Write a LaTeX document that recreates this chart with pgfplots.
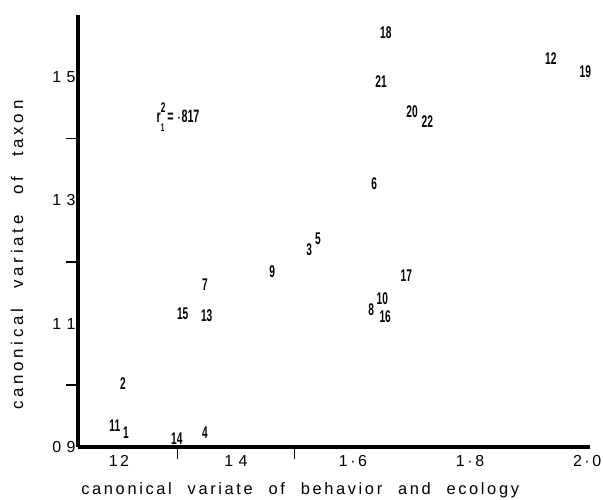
\documentclass[border=0pt]{standalone}
\usepackage{fontspec}
\usepackage{pgfplots}
\usepackage{pgfplotstable}
\pgfplotsset{compat=1.18}
\setmainfont{Liberation Sans}
\newfontfamily\numfont[FakeStretch=0.6]{Liberation Sans}
\newfontfamily\labfont[LetterSpace=16,WordSpace=2.2]{Liberation Sans}
\newfontfamily\ylabfont[LetterSpace=22,WordSpace=2.4]{Liberation Sans}

% taxa: canonical variate of behaviour/ecology (x) against taxon (y)
\pgfplotstableread{
x     y     lab
1.212 0.923 1
1.207 1.002 2
1.525 1.219 3
1.347 0.923 4
1.540 1.237 5
1.636 1.326 6
1.347 1.163 7
1.631 1.122 8
1.462 1.184 9
1.650 1.141 10
1.193 0.934 11
1.938 1.529 12
1.350 1.112 13
1.299 0.913 14
1.309 1.116 15
1.655 1.111 16
1.691 1.177 17
1.656 1.571 18
1.997 1.508 19
1.701 1.443 20
1.648 1.492 21
1.727 1.428 22
}\taxa

\begin{document}
\begin{tikzpicture}
\path[use as bounding box] (0,0) rectangle (603bp,500bp);
\begin{axis}[
    at={(78bp,53bp)}, anchor=south west,
    scale only axis, width=512bp, height=432bp,
    xmin=1.13, xmax=2.005, ymin=0.9, ymax=1.6,
    axis lines*=left,
    axis line style={line width=3bp},
    xtick={1.2,1.4,1.6,1.8,2.0},
    xticklabels={12,1\,\,4,1·6,1·8,2·0},
    ytick={0.9,1.1,1.3,1.5},
    yticklabels={0\,\,9,1\,\,1,1\,\,3,1\,\,5},
    minor xtick={1.3,1.5},
    minor ytick={1.0,1.2,1.4},
    tick align=outside,
    major tick length=0pt,
    minor tick length=12bp,
    minor tick style={line width=1.6bp, black},
    ticklabel style={font=\labfont\fontsize{16}{16}\selectfont},
    xticklabel style={anchor=center, yshift=-14bp},
    yticklabel style={anchor=center, xshift=-14bp},
    xlabel={canonical variate of behavior and ecology},
    ylabel={canonical variate of taxon},
    xlabel style={font=\labfont\fontsize{16.5}{16.5}\selectfont,
        at={(axis description cs:0.434,-0.0995)}, anchor=center},
    ylabel style={font=\ylabfont\fontsize{17}{17}\selectfont,
        at={(axis description cs:-0.119,0.444)}, anchor=center, rotate=0},
    clip=false,
]
\addplot[
    draw=none, mark=none,
    nodes near coords,
    point meta=explicit symbolic,
    every node near coord/.style={anchor=center, inner sep=0pt,
        font=\numfont\bfseries\fontsize{17}{17}\selectfont},
] table[x=x, y=y, meta=lab] {\taxa};
\node[font=\numfont\bfseries\fontsize{18}{18}\selectfont, anchor=center, inner sep=0pt]
    at (axis cs:1.301,1.435)
    {r\makebox[0pt][l]{\raisebox{1.1ex}{\fontsize{14}{14}\selectfont 2}}\raisebox{-0.9ex}{\fontsize{11}{11}\selectfont 1}\,=\,$\cdot$817};
\end{axis}
\end{tikzpicture}
\end{document}
